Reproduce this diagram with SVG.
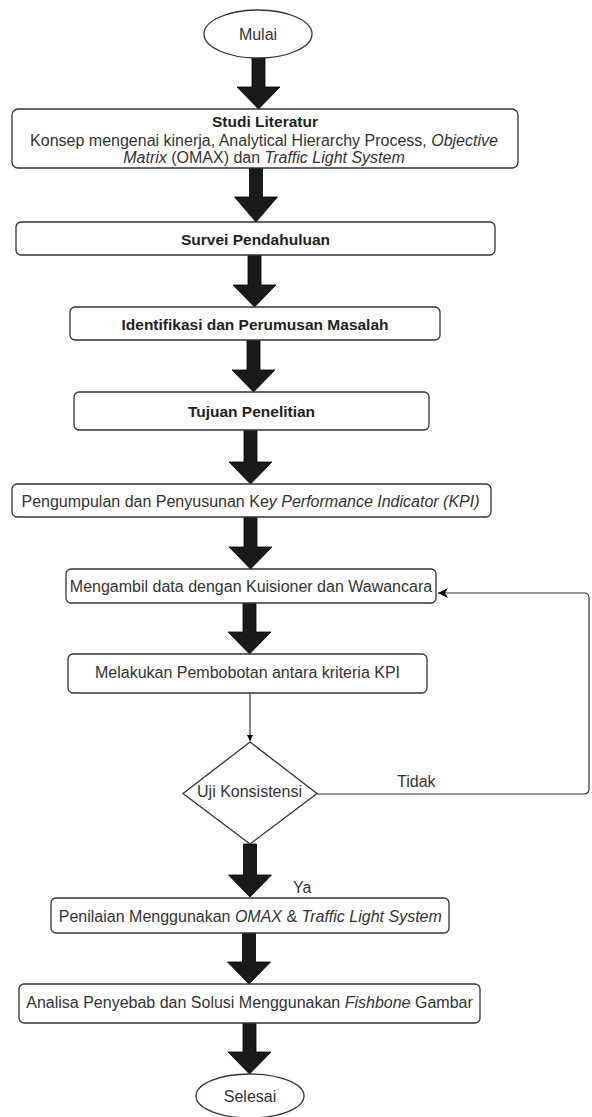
<svg xmlns="http://www.w3.org/2000/svg" width="592" height="1117" viewBox="0 0 592 1117">
<style>
.box{fill:#fff;stroke:#333;stroke-width:1.3}
.t{font-family:"Liberation Sans",Arial,sans-serif;font-size:16px;fill:#333;text-anchor:middle}
.b{font-weight:bold;fill:#222;font-size:15.5px}
.i{font-style:italic}
.big{fill:#1a1a1a;stroke:#000;stroke-width:0.8}
.thin{fill:none;stroke:#333;stroke-width:1.2}
</style>
<defs>
<marker id="ah" markerWidth="12" markerHeight="10" refX="10" refY="5" orient="auto" markerUnits="userSpaceOnUse">
<path d="M0,0 L10,5 L0,10 L3,5 Z" fill="#000"/>
</marker>
<marker id="ahs" markerWidth="8" markerHeight="8" refX="6" refY="4" orient="auto" markerUnits="userSpaceOnUse">
<path d="M0,1 L6,4 L0,7 Z" fill="#000"/>
</marker>
</defs>
<rect width="592" height="1117" fill="#fff"/>
<g id="connectors">
<polygon class="big" points="252,58 265,58 265,87 280,87 258.5,109 237,87 252,87"/>
<polygon class="big" points="249.5,168 262.5,168 262.5,197 277.5,197 256,222 234.5,197 249.5,197"/>
<polygon class="big" points="248,255 261,255 261,285 276,285 254.5,307 233,285 248,285"/>
<polygon class="big" points="247,340 260,340 260,370 275,370 253.5,392 232,370 247,370"/>
<polygon class="big" points="244,430 257,430 257,462 272,462 250.5,484 229,462 244,462"/>
<polygon class="big" points="244,517 257,517 257,547 272,547 250.5,569 229,547 244,547"/>
<polygon class="big" points="243,603 256,603 256,632 271,632 249.5,654 228,632 243,632"/>
<polygon class="big" points="243.5,844 256.5,844 256.5,875 271.5,875 250,897 228.5,875 243.5,875"/>
<polygon class="big" points="242.5,933 255.5,933 255.5,962 270.5,962 249,984 227.5,962 242.5,962"/>
<polygon class="big" points="243,1023 256,1023 256,1052 271,1052 249.5,1074 228,1052 243,1052"/>
<path class="thin" d="M250,693 V741" marker-end="url(#ahs)"/>
<path class="thin" d="M317,794 H584 Q589,794 589,789 V598 Q589,593 584,593 H438" marker-end="url(#ah)"/>
<text class="t" x="397" y="787" style="text-anchor:start">Tidak</text>
<text class="t" x="293" y="893" style="text-anchor:start">Ya</text>
</g>
<g id="mulai">
<ellipse class="box" cx="258" cy="34" rx="54" ry="24"/>
<text class="t" x="258" y="40">Mulai</text>
</g>
<g id="studi">
<rect class="box" x="12" y="109" width="506" height="59" rx="6"/>
<text class="t b" x="265" y="127">Studi Literatur</text>
<text class="t" x="264" y="145.5">Konsep mengenai kinerja, Analytical Hierarchy Process, <tspan class="i">Objective</tspan></text>
<text class="t" x="264" y="163"><tspan class="i">Matrix</tspan> (OMAX) dan <tspan class="i">Traffic Light System</tspan></text>
</g>
<g id="survei">
<rect class="box" x="16" y="222" width="479" height="33" rx="5"/>
<text class="t b" x="255.5" y="244.5">Survei Pendahuluan</text>
</g>
<g id="identifikasi">
<rect class="box" x="70" y="307" width="370" height="33" rx="5"/>
<text class="t b" x="255" y="329.5">Identifikasi dan Perumusan Masalah</text>
</g>
<g id="tujuan">
<rect class="box" x="74" y="392" width="355" height="38" rx="5"/>
<text class="t b" x="251.5" y="416.5">Tujuan Penelitian</text>
</g>
<g id="pengumpulan">
<rect class="box" x="12" y="484" width="479" height="33" rx="5"/>
<text class="t" x="250.5" y="506.5">Pengumpulan dan Penyusunan Ke<tspan class="i">y Performance Indicator (KPI)</tspan></text>
</g>
<g id="mengambil">
<rect class="box" x="66" y="569" width="370" height="34" rx="5"/>
<text class="t" x="251" y="591.5">Mengambil data dengan Kuisioner dan Wawancara</text>
</g>
<g id="melakukan">
<rect class="box" x="68" y="654" width="359" height="39" rx="5"/>
<text class="t" x="247.5" y="678">Melakukan Pembobotan antara kriteria KPI</text>
</g>
<g id="uji">
<polygon class="box" points="250,742 317,793.5 250,844 183,793.5"/>
<text class="t" x="249.5" y="797">Uji Konsistensi</text>
</g>
<g id="penilaian">
<rect class="box" x="51" y="898" width="398" height="35" rx="5"/>
<text class="t" x="250.3" y="921.5">Penilaian Menggunakan <tspan class="i">OMAX</tspan> &amp; <tspan class="i">Traffic Light System</tspan></text>
</g>
<g id="analisa">
<rect class="box" x="19" y="984" width="461" height="39" rx="5"/>
<text class="t" x="249.5" y="1008">Analisa Penyebab dan Solusi Menggunakan <tspan class="i">Fishbone</tspan> Gambar</text>
</g>
<g id="selesai">
<ellipse class="box" cx="250" cy="1096" rx="54" ry="22"/>
<text class="t" x="250" y="1102">Selesai</text>
</g>
</svg>
